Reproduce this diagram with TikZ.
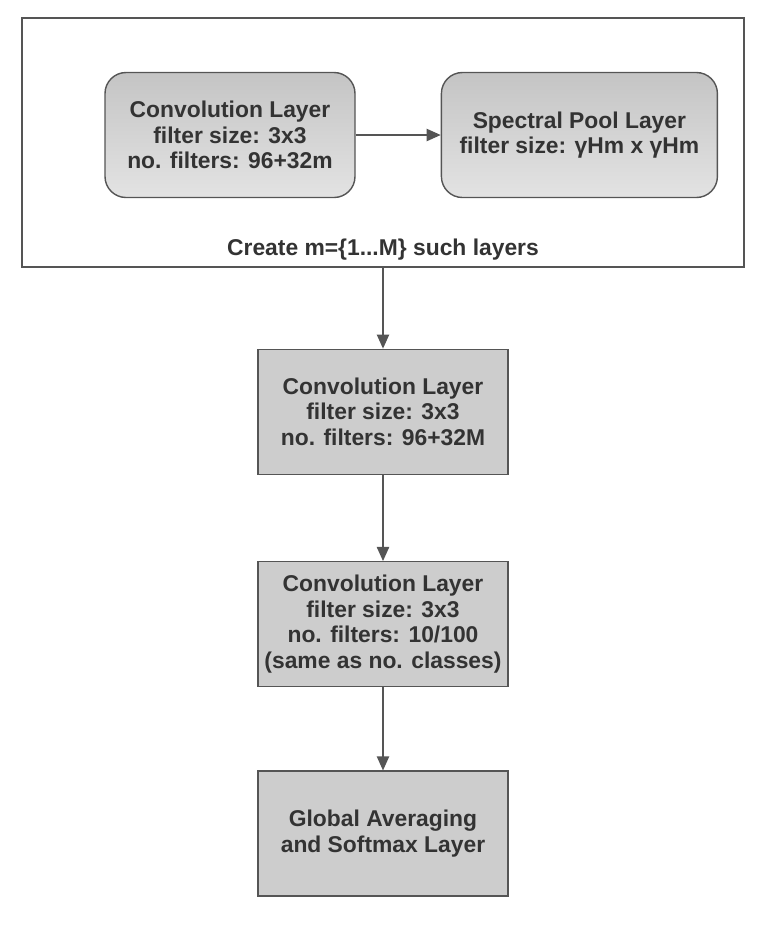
\documentclass[tikz,border=0pt]{standalone}
\usepackage{fontspec}
\setmainfont{Liberation Sans}
\usepackage{xcolor}
\usepackage{tikz}
\usetikzlibrary{positioning,arrows.meta,shapes}
\definecolor{boxline}{HTML}{555555}
\definecolor{boxtext}{HTML}{333333}
\definecolor{boxfill}{HTML}{CDCDCD}
\tikzstyle{lbl}=[text=boxtext,align=center,font=\fontsize{13}{14.6}\selectfont\bfseries]
\tikzstyle{layer}=[lbl,draw=boxline,line width=0.8pt,minimum width=5cm,minimum height=2.5cm,inner sep=0pt]
\tikzstyle{plain}+=[layer,fill=boxfill]
\tikzstyle{soft}+=[layer,rounded corners=0.42cm,top color=black!23,bottom color=black!11]
\tikzstyle{flow}=[draw=boxline,line width=0.8pt,-{Triangle[length=8pt,width=7pt]}]

\begin{document}
\begin{tikzpicture}
    \useasboundingbox (0,0) rectangle (15.6,-18.52);
    \node[draw=boxline,line width=0.7pt,minimum width=14.44cm,minimum height=4.98cm] (block) at (7.66,-2.85) {};
    \node[soft] (conv) at (4.6,-2.7) {Convolution Layer\\filter size: 3x3\\no. filters: 96+32m};
    \node[soft,minimum width=5.52cm,right=1.7cm of conv] (pool) {Spectral Pool Layer\\filter size: γHm x γHm};
    \node[lbl,above=0.03cm of block.south] (rep) {Create m=\{1...M\} such layers};
    \node[plain,below=1.62cm of block] (convb) {Convolution Layer\\filter size: 3x3\\no. filters: 96+32M};
    \node[plain,below=1.72cm of convb] (convc) {Convolution Layer\\filter size: 3x3\\no. filters: 10/100\\(same as no. classes)};
    \node[plain,below=1.66cm of convc] (gap) {Global Averaging\\and Softmax Layer};
    \draw[flow] (conv) -- (pool);
    \draw[flow] (block) -- (convb);
    \draw[flow] (convb) -- (convc);
    \draw[flow] (convc) -- (gap);
  \end{tikzpicture}
\end{document}
